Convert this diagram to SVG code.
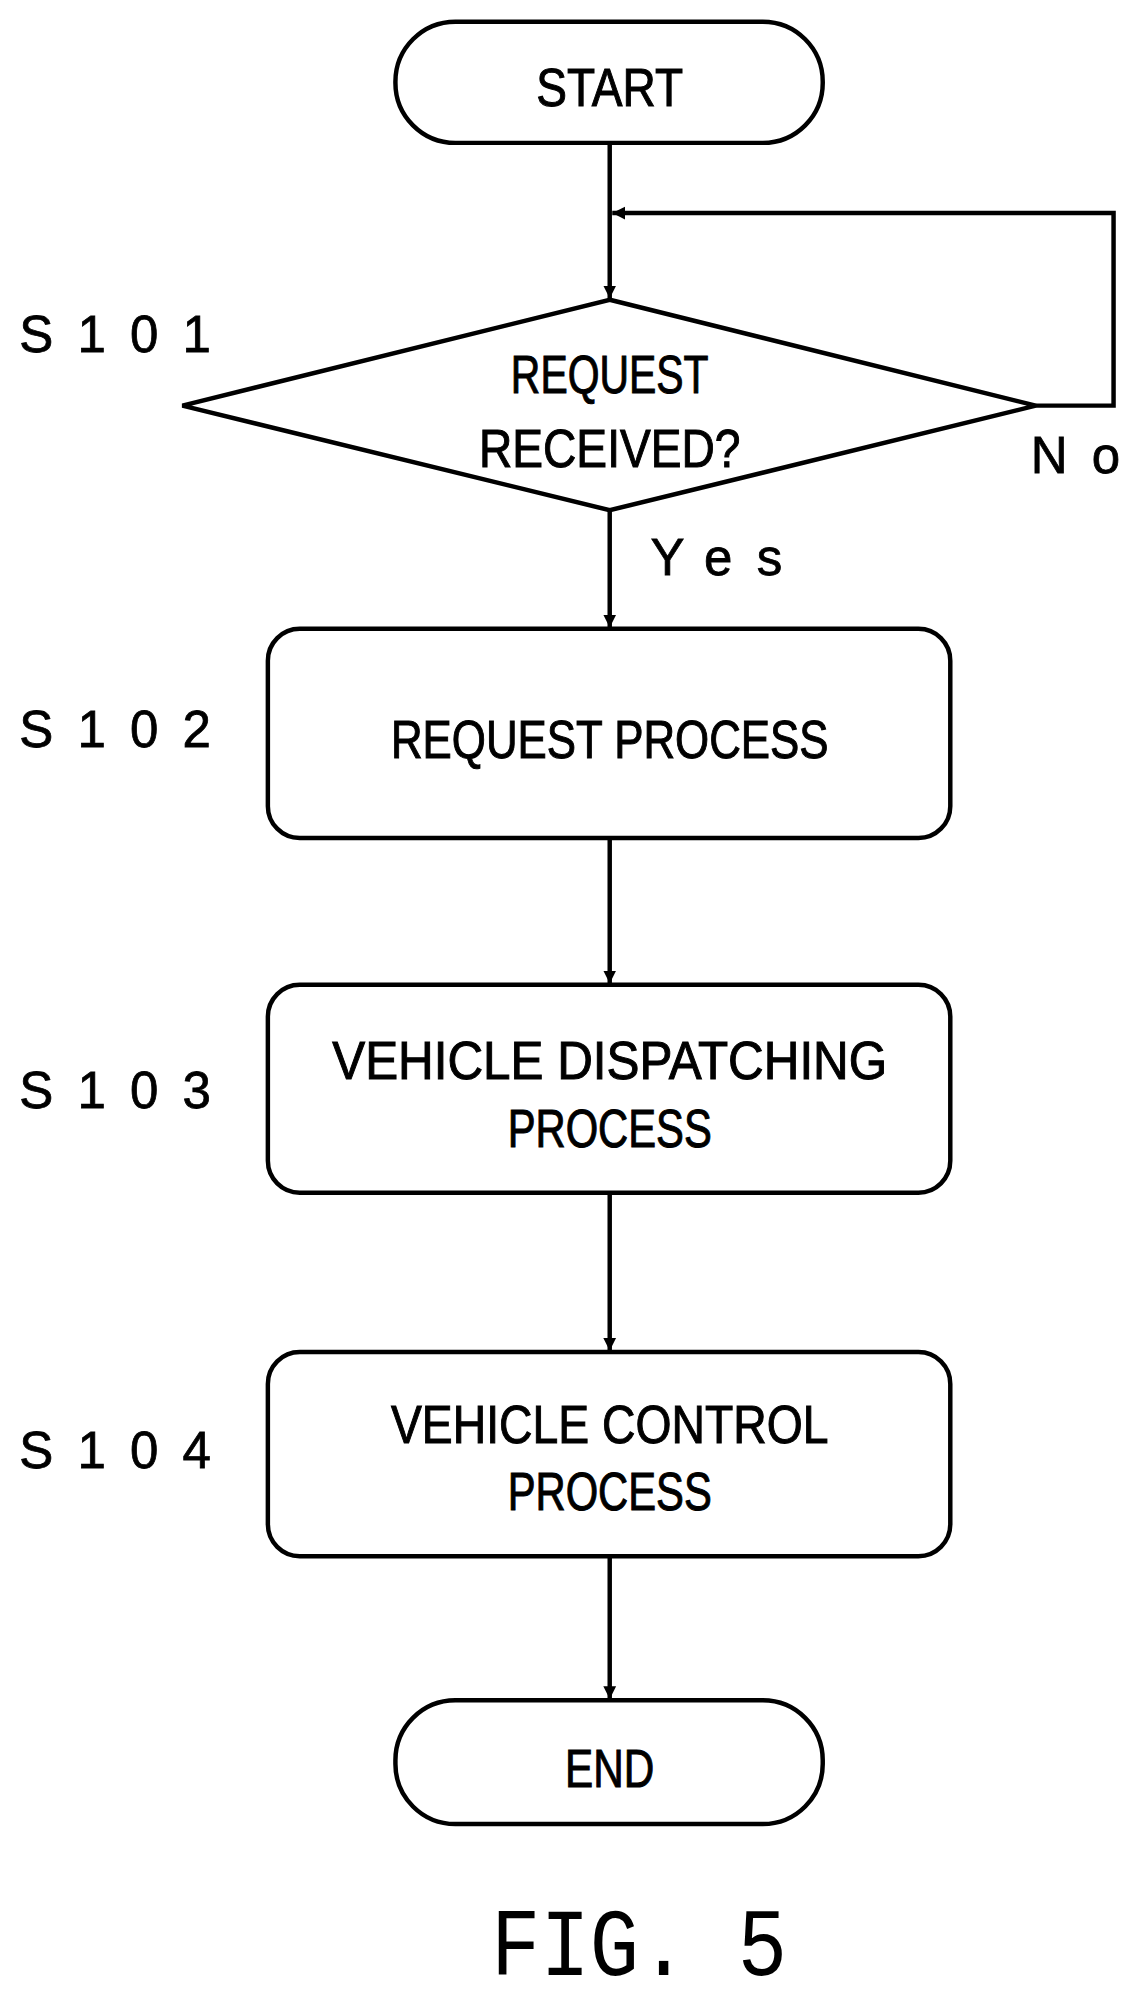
<svg xmlns="http://www.w3.org/2000/svg" width="1148" height="2000" viewBox="0 0 1148 2000">
<style>
.s{fill:#fff;stroke:#000;stroke-width:3.5}
.c{fill:none;stroke:#000;stroke-width:3.5}
text{font-family:"Liberation Sans","DejaVu Sans",sans-serif;fill:#000}
.t{font-size:42px;text-anchor:middle;stroke:#000;stroke-width:0.8}
.l{font-size:40px;letter-spacing:19px;stroke:#000;stroke-width:0.6}
.f{font-family:"Liberation Mono",monospace;font-size:76px}
</style>
<defs>
<marker id="b" viewBox="0 0 10 10" refX="10" refY="5" markerWidth="10" markerHeight="14" orient="auto" markerUnits="userSpaceOnUse"><path d="M0,0L10,5L0,10z"/></marker></defs>
<rect width="1148" height="2000" fill="#fff"/>
<g transform="scale(1.27556)">
<g id="connectors">
<line class="c" x1="478" y1="112" x2="478" y2="234" marker-end="url(#b)"/>
<polyline class="c" points="812,318 873,318 873,167 480,167" marker-end="url(#b)"/>
<line class="c" x1="478" y1="400" x2="478" y2="492" marker-end="url(#b)"/>
<line class="c" x1="478" y1="657" x2="478" y2="771" marker-end="url(#b)"/>
<line class="c" x1="478" y1="935" x2="478" y2="1059" marker-end="url(#b)"/>
<line class="c" x1="478" y1="1220" x2="478" y2="1332" marker-end="url(#b)"/>
<text class="l" x="510" y="451">Yes</text>
<text class="l" x="808" y="371">No</text>
</g>
<g id="start"><rect class="s" x="310" y="17" width="335" height="95" rx="47"/><text class="t" x="478" y="83" textLength="115" lengthAdjust="spacingAndGlyphs">START</text></g>
<g id="s101"><polygon class="s" points="478,235 812,318 478,400 143,318" stroke-width="4.5"/><text class="t" x="478" y="308" textLength="155" lengthAdjust="spacingAndGlyphs">REQUEST</text><text class="t" x="478" y="366" textLength="205" lengthAdjust="spacingAndGlyphs">RECEIVED?</text><text class="l" x="15" y="276">S101</text></g>
<g id="s102"><rect class="s" x="210" y="493" width="535" height="164" rx="25"/><text class="t" x="478" y="594" textLength="343" lengthAdjust="spacingAndGlyphs">REQUEST PROCESS</text><text class="l" x="15" y="586">S102</text></g>
<g id="s103"><rect class="s" x="210" y="772" width="535" height="163" rx="25"/><text class="t" x="478" y="846" textLength="435" lengthAdjust="spacingAndGlyphs">VEHICLE DISPATCHING</text><text class="t" x="478" y="899" textLength="160" lengthAdjust="spacingAndGlyphs">PROCESS</text><text class="l" x="15" y="869">S103</text></g>
<g id="s104"><rect class="s" x="210" y="1060" width="535" height="160" rx="25"/><text class="t" x="478" y="1131" textLength="343" lengthAdjust="spacingAndGlyphs">VEHICLE CONTROL</text><text class="t" x="478" y="1184" textLength="160" lengthAdjust="spacingAndGlyphs">PROCESS</text><text class="l" x="15" y="1151">S104</text></g>
<g id="end"><rect class="s" x="310" y="1333" width="335" height="97" rx="47"/><text class="t" x="478" y="1401" textLength="70" lengthAdjust="spacingAndGlyphs">END</text></g>
<text class="f" x="385" y="1548" textLength="232" lengthAdjust="spacingAndGlyphs">FIG. 5</text>
</g>
</svg>
